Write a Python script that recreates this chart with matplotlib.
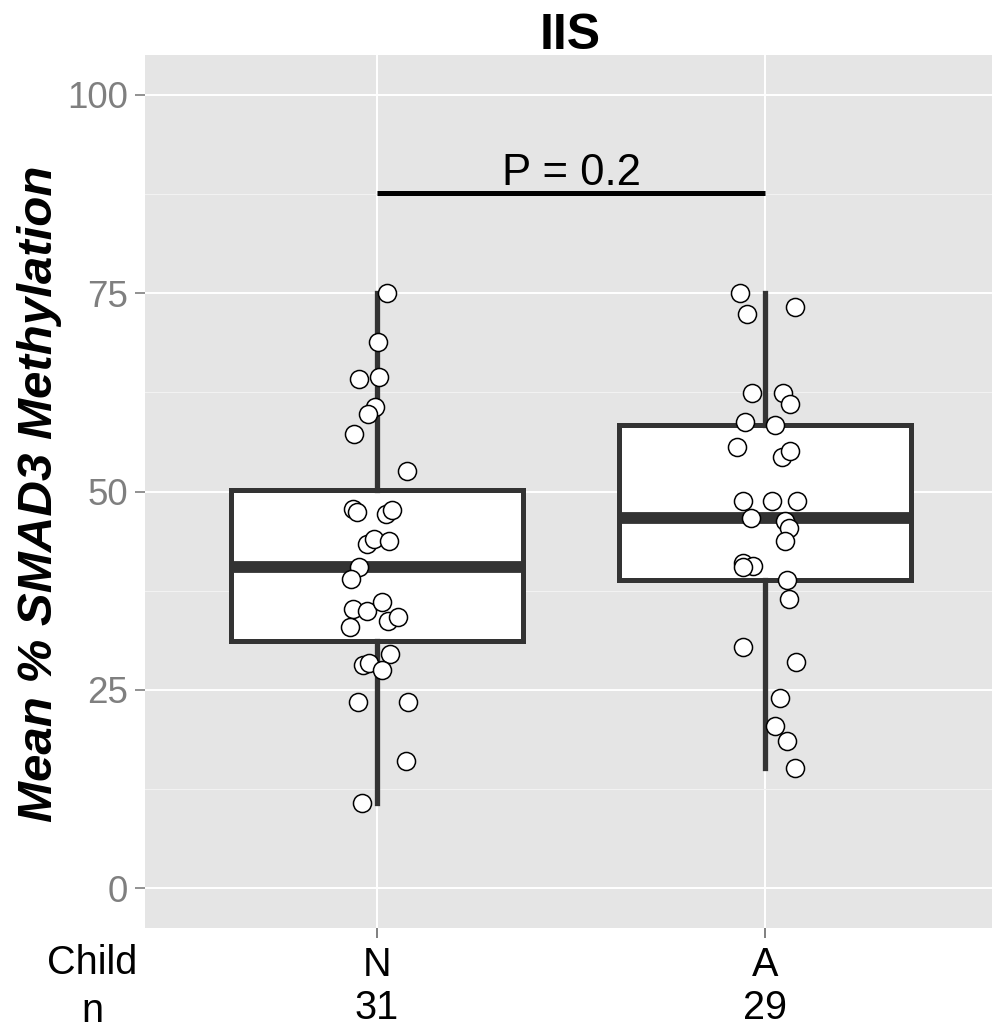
import matplotlib
matplotlib.use("Agg")
import matplotlib.pyplot as plt
import matplotlib.transforms as mtransforms
from matplotlib.ticker import MultipleLocator

plt.rcParams["font.family"] = ["Liberation Sans", "DejaVu Sans"]

# group labels, sizes and methylation values (jittered x positions kept with them)
groups = ["N", "A"]
group_n = [31, 29]

meth_N = [75.0, 68.9, 64.2, 64.4, 60.7, 59.8, 57.3, 52.6, 47.8, 47.4, 47.2,
          47.7, 43.4, 44.0, 43.8, 40.5, 39.0, 35.2, 35.0, 36.1, 33.7, 34.2,
          32.9, 29.5, 28.1, 28.4, 27.5, 23.5, 23.5, 16.1, 10.8]
xpos_N = [1.026, 1.003, 0.954, 1.005, 0.995, 0.977, 0.941, 1.077, 0.938, 0.948,
          1.023, 1.039, 0.974, 0.992, 1.031, 0.954, 0.933, 0.938, 0.974, 1.013,
          1.028, 1.054, 0.930, 1.034, 0.964, 0.979, 1.013, 0.951, 1.080, 1.075,
          0.961]

meth_A = [75.0, 72.4, 73.3, 62.4, 62.4, 61.0, 58.8, 58.4, 55.6, 54.4, 55.1,
          48.8, 48.8, 48.8, 46.7, 46.3, 45.4, 43.8, 41.0, 40.6, 40.5, 38.8,
          36.4, 30.4, 28.5, 24.0, 20.4, 18.5, 15.1]
xpos_A = [1.936, 1.954, 2.077, 1.966, 2.046, 2.064, 1.948, 2.026, 1.928, 2.044,
          2.064, 1.943, 2.018, 2.082, 1.964, 2.052, 2.062, 2.052, 1.943, 1.969,
          1.943, 2.057, 2.062, 1.943, 2.080, 2.039, 2.026, 2.057, 2.077]

p_label = "P = 0.2"
p_height = 87.6

W, H = 992, 1030
fig = plt.figure(figsize=(W / 100, H / 100), dpi=100)
ax = fig.add_axes([145 / W, 1 - 928 / H, 1 - 145 / W, (928 - 55) / H])
ax.set_facecolor("#E5E5E5")
for s in ax.spines.values():
    s.set_visible(False)

ax.set_xlim(0.402, 2.585)
ax.set_ylim(-5.0, 105.0)
ax.yaxis.set_major_locator(MultipleLocator(25))
ax.yaxis.set_minor_locator(MultipleLocator(12.5))
ax.set_xticks([1, 2])
ax.grid(which="major", color="white", linewidth=1.4, zorder=0)
ax.grid(which="minor", axis="y", color="#F2F2F2", linewidth=0.8, zorder=0)
ax.set_axisbelow(True)

box_col = "#333333"
ax.boxplot([meth_N, meth_A], positions=[1, 2], widths=0.755, whis=1.5,
           patch_artist=True, showcaps=False, showfliers=False,
           boxprops=dict(facecolor="white", edgecolor=box_col, linewidth=3.6),
           whiskerprops=dict(color=box_col, linewidth=3.8),
           medianprops=dict(color=box_col, linewidth=8.5, solid_capstyle="butt"),
           zorder=2)

ax.plot(xpos_N, meth_N, "o", ms=13, mfc="white", mec="black", mew=1.1, zorder=3)
ax.plot(xpos_A, meth_A, "o", ms=13, mfc="white", mec="black", mew=1.1, zorder=3)

# significance bar
ax.plot([1, 2], [p_height, p_height], color="black", linewidth=3.6,
        solid_capstyle="butt", zorder=3)
ax.text(1.5, p_height + 1.0, p_label, ha="center", va="baseline", fontsize=31.5)

ax.tick_params(axis="y", colors="#7F7F7F", labelsize=26.5, length=7.2, width=1.2,
               pad=5)
ax.tick_params(axis="x", length=7.2, width=1.2, color="#7F7F7F", labelsize=1,
               labelcolor="none")
ax.tick_params(which="minor", length=0)

# group names and counts under the axis
xfig = mtransforms.blended_transform_factory(ax.transData, fig.transFigure)
for i, (g, n) in enumerate(zip(groups, group_n)):
    ax.text(i + 1, 1 - 975.5 / H, g, ha="center", va="baseline", fontsize=28.5,
            transform=xfig, clip_on=False)
    ax.text(i + 1, 1 - 1019 / H, str(n), ha="center", va="baseline",
            fontsize=28.5, transform=xfig, clip_on=False)
fig.text(92.5 / W, 1 - 974 / H, "Child", ha="center", va="baseline",
         fontsize=28.5)
fig.text(92.5 / W, 1 - 1021.5 / H, "n", ha="center", va="baseline",
         fontsize=28.5)

fig.text(570 / W, 1 - 49.3 / H, "IIS", ha="center", va="baseline",
         fontsize=36, fontweight="bold")
fig.text(40 / W, 1 - 494 / H, "Mean % SMAD3 Methylation", rotation=90,
         ha="center", va="center", fontsize=35.5, fontweight="bold",
         fontstyle="italic")

fig.savefig("out.png", dpi=100)
